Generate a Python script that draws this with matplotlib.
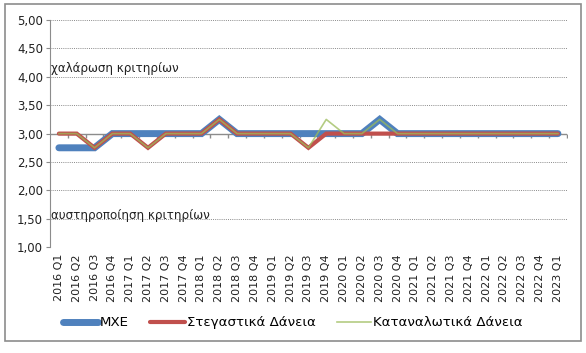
import matplotlib
matplotlib.use("Agg")
import matplotlib.pyplot as plt
from matplotlib.patches import Rectangle
import numpy as np

# quarters 2016 Q1 .. 2023 Q1
years = [2016] * 4 + [2017] * 4 + [2018] * 4 + [2019] * 4 + [2020] * 4 + [2021] * 4 + [2022] * 4 + [2023]
quarters = ["Q1", "Q2", "Q3", "Q4"] * 7 + ["Q1"]
labels = [f"{y} {q}" for y, q in zip(years, quarters)]

mxe = [2.75, 2.75, 2.75, 3.0, 3.0, 3.0, 3.0, 3.0, 3.0, 3.25, 3.0, 3.0, 3.0, 3.0, 3.0, 3.0,
       3.0, 3.0, 3.25, 3.0, 3.0, 3.0, 3.0, 3.0, 3.0, 3.0, 3.0, 3.0, 3.0]
housing = [3.0, 3.0, 2.75, 3.0, 3.0, 2.75, 3.0, 3.0, 3.0, 3.25, 3.0, 3.0, 3.0, 3.0, 2.75, 3.0,
           3.0, 3.0, 3.0, 3.0, 3.0, 3.0, 3.0, 3.0, 3.0, 3.0, 3.0, 3.0, 3.0]
consumer = [3.0, 3.0, 2.75, 3.0, 3.0, 2.75, 3.0, 3.0, 3.0, 3.25, 3.0, 3.0, 3.0, 3.0, 2.75, 3.25,
            3.0, 3.0, 3.25, 3.0, 3.0, 3.0, 3.0, 3.0, 3.0, 3.0, 3.0, 3.0, 3.0]
yticks = [1.0, 1.5, 2.0, 2.5, 3.0, 3.5, 4.0, 4.5, 5.0]

fig = plt.figure(figsize=(5.86, 3.53), dpi=100)
ax = fig.add_axes([0.0853, 0.300, 0.882, 0.643])

x = np.arange(len(labels))

# dotted gridlines
for yv in yticks:
    if yv != 3.0:
        ax.axhline(yv, color="#8a8a8a", lw=0.7, ls=(0, (1, 1.2)), zorder=1)

# category axis crosses at 3.00
ax.axhline(3.0, color="#8c8c8c", lw=1.0, zorder=1)
bounds = np.arange(len(labels) + 1) - 0.5
ax.plot(bounds[1:], [3.0] * len(labels), ls="none", marker=3, ms=3,
        mec="#8c8c8c", mew=1.0, zorder=1)

ax.plot(x, mxe, color="#4F81BD", lw=5, solid_capstyle="round",
        solid_joinstyle="miter", label="ΜΧΕ", zorder=3)
ax.plot(x, housing, color="#C0504D", lw=3, solid_capstyle="round",
        solid_joinstyle="miter", label="Στεγαστικά Δάνεια", zorder=4)
ax.plot(x, consumer, color="#9BBB59", lw=1.2, alpha=0.75,
        label="Καταναλωτικά Δάνεια", zorder=5)

ax.set_xlim(-0.5, len(labels) - 0.5)
ax.set_ylim(1.0, 5.0)
ax.set_yticks(yticks)
ax.set_yticklabels([f"{v:.2f}".replace(".", ",") for v in yticks], fontsize=8.5, color="#222222")
ax.set_xticks(x)
ax.set_xticklabels(labels, rotation=90, fontsize=8, color="#222222")
ax.tick_params(axis="x", length=0, pad=5)
ax.tick_params(axis="y", length=3, color="#8c8c8c", pad=2)

for s in ["top", "right", "bottom"]:
    ax.spines[s].set_visible(False)
ax.spines["left"].set_color("#8c8c8c")

ax.text(-0.45, 4.15, "χαλάρωση κριτηρίων", fontsize=8.6, color="#222222", va="center")
ax.text(-0.45, 1.55, "αυστηροποίηση κριτηρίων", fontsize=8.6, color="#222222", va="center")

fig.legend(loc="center", bbox_to_anchor=(0.5, 0.085), ncol=3, frameon=False,
           fontsize=9.6, handlelength=2.6, handletextpad=0.15, columnspacing=1.6)

fig.patches.append(Rectangle((0.009, 0.034), 0.983, 0.955, transform=fig.transFigure,
                             fill=False, edgecolor="#8c8c8c", lw=1.2))

fig.savefig("out.png", dpi=100)
